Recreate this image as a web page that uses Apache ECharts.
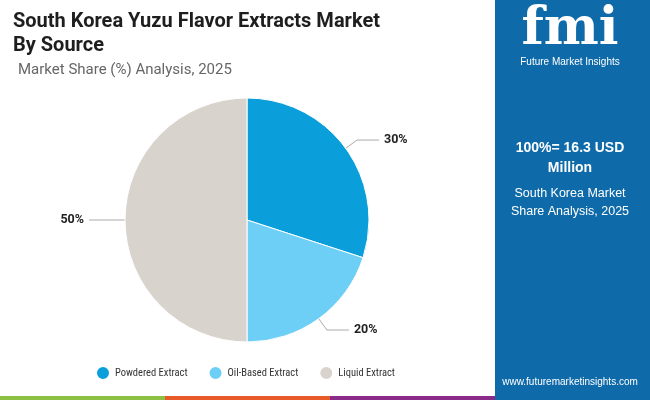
<!DOCTYPE html>
<html lang="en">
  <head>
    <meta charset="UTF-8" />
    <title>South Korea Yuzu Flavor Extracts Market</title>
    <script src="https://cdn.jsdelivr.net/npm/echarts@6.0.0/dist/echarts.min.js"></script>
    <style>
      body { margin: 0; }
    </style>
  </head>
  <body>
    <div id="main" style="width: 650px; height: 400px"></div>
    <script type="text/javascript">
      const categories = ["Powdered Extract", "Oil-Based Extract", "Liquid Extract"];
      const shares = [30, 20, 50];
      const colors = ["#0a9fdb", "#6dcff6", "#d9d3ce"];

      let myChart = echarts.init(document.getElementById("main"));

      const font = "Roboto";
      let options = {
        animation: false,
        backgroundColor: "#ffffff",
        textStyle: { fontFamily: font },
        title: [
          {
            text: "South Korea Yuzu Flavor Extracts Market\nBy Source",
            left: 8, top: 5,
            textStyle: { fontSize: 20, fontWeight: "bold", color: "#1e1e1e", lineHeight: 24, fontFamily: font }
          },
          {
            text: "Market Share (%) Analysis, 2025",
            left: 13, top: 58,
            textStyle: { fontSize: 15, fontWeight: "normal", color: "#666", fontFamily: font }
          }
        ],
        legend: {
          bottom: 14, left: 90,
          icon: "circle", itemWidth: 14, itemHeight: 14, itemGap: 20,
          textStyle: { fontSize: 10.5, color: "#333", fontFamily: "Roboto Condensed, Liberation Sans Narrow, Roboto" },
          data: categories
        },
        graphic: [
          { type: "rect", shape: { x: 495, y: 0, width: 155, height: 400 }, style: { fill: "#0e6aa8" } },
          { type: "rect", shape: { x: 0, y: 396, width: 165, height: 4 }, style: { fill: "#8cc043" } },
          { type: "rect", shape: { x: 165, y: 396, width: 165, height: 4 }, style: { fill: "#e95a2a" } },
          { type: "rect", shape: { x: 330, y: 396, width: 165, height: 4 }, style: { fill: "#8a2b87" } },
          { type: "text", x: 570, y: 4, style: { text: "fmi", fontSize: 52, fontWeight: "bold", fill: "#ffffff", fontFamily: "DejaVu Serif", align: "center" } },
          { type: "text", x: 570, y: 57, style: { text: "Future Market Insights", fontSize: 10, fill: "#ffffff", align: "center" } },
          { type: "text", x: 570, y: 138, style: { text: "100%= 16.3 USD\nMillion", fontSize: 14, fontWeight: "bold", fill: "#ffffff", align: "center", lineHeight: 20 } },
          { type: "text", x: 570, y: 185, style: { text: "South Korea Market\nShare Analysis, 2025", fontSize: 12.5, fill: "#ffffff", align: "center", lineHeight: 18 } },
          { type: "text", x: 570, y: 377, style: { text: "www.futuremarketinsights.com", fontSize: 10, fill: "#ffffff", align: "center" } }
        ],
        series: [
          {
            type: "pie",
            center: [247, 220],
            radius: [0, 122],
            startAngle: 90,
            clockwise: true,
            color: colors,
            data: categories.map((c, i) => ({ name: c, value: shares[i] })),
            label: {
              formatter: "{c}%", fontSize: 12.5, fontWeight: "bold", color: "#222"
            },
            labelLine: { length: 14, length2: 22, lineStyle: { color: "#aaa", width: 1 } },
            itemStyle: { borderColor: "#fff", borderWidth: 1 }
          }
        ]
      };
      myChart.setOption(options);
    </script>
  </body>
</html>
